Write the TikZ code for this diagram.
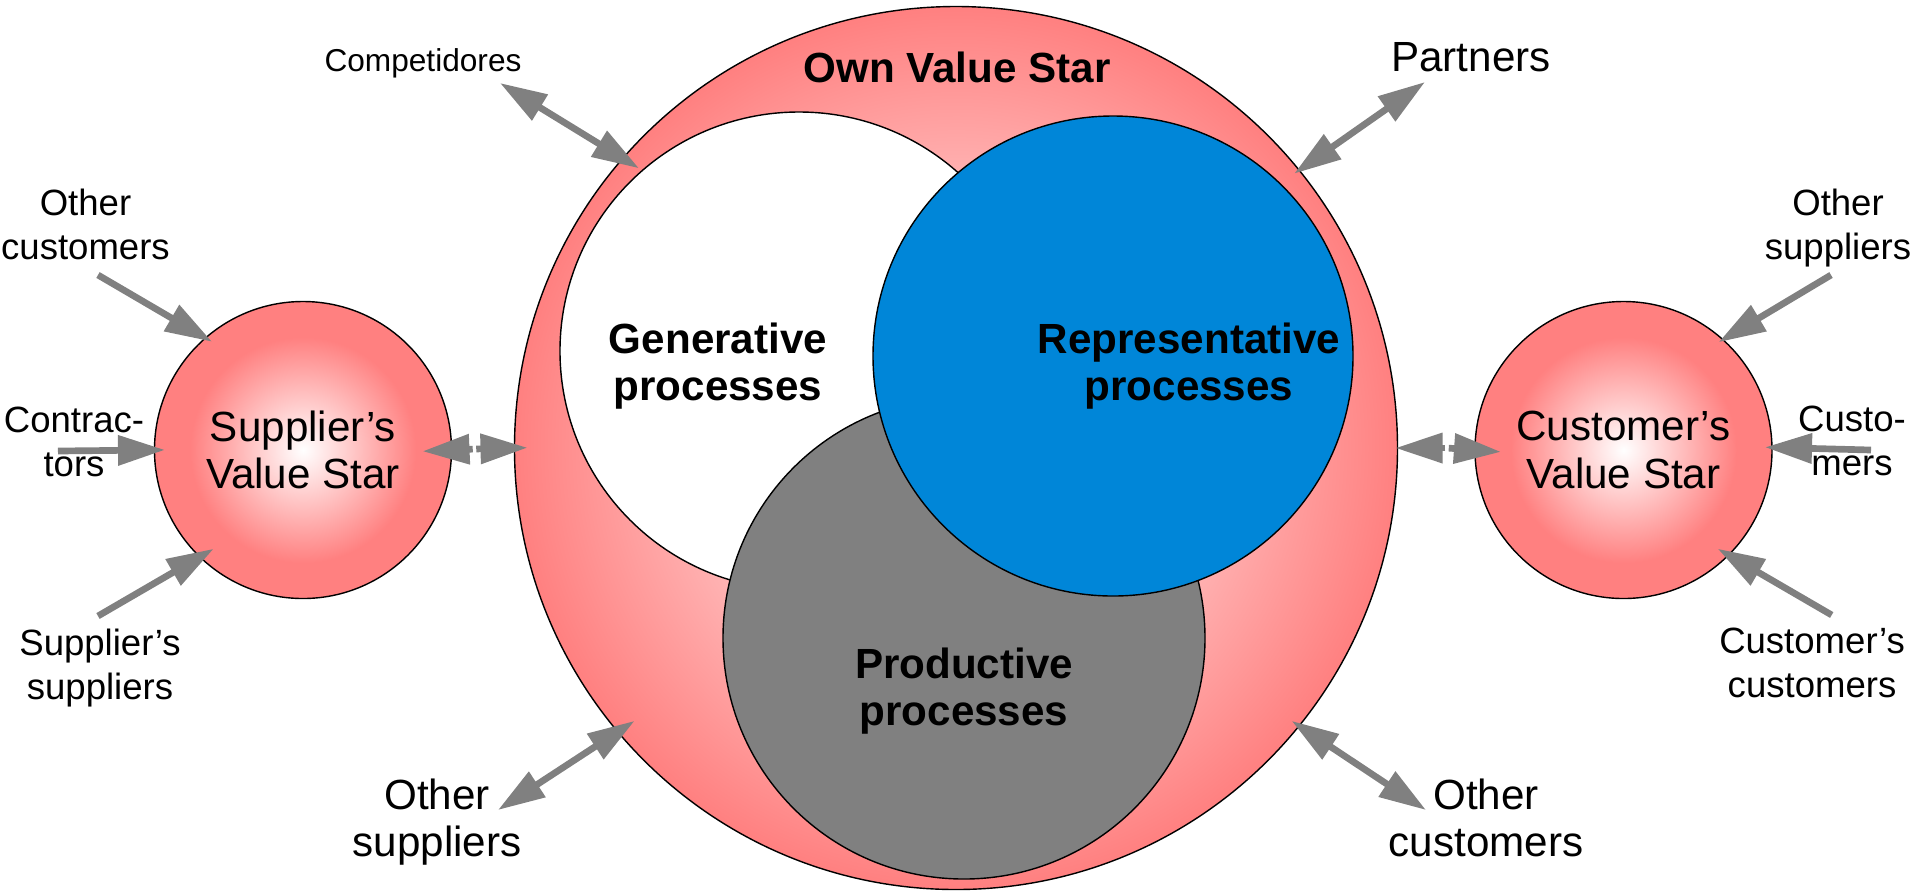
\documentclass[tikz,border=0pt]{standalone}
\usepackage{fontspec}
\setmainfont{Liberation Sans}
\usetikzlibrary{arrows.meta}
\definecolor{starpink}{RGB}{255,128,128}
\definecolor{procblue}{RGB}{0,134,216}
\definecolor{flowgray}{RGB}{128,128,128}
\pgfdeclareradialshading{starball}{\pgfpoint{0bp}{0bp}}{color(0bp)=(white); color(19bp)=(starpink); color(50bp)=(starpink)}
\tikzset{star/.style={circle,draw,outer sep=0pt,inner sep=0pt},
txt/.style={font=\fontsize{12}{13.4}\selectfont,align=center,inner sep=0pt},
side/.style={txt,font=\fontsize{10.4}{12.6}\selectfont},
bold/.style={txt,font=\fontsize{12}{13.4}\selectfont\bfseries},
flow/.style={draw=flowgray,line width=1.9pt,-{Triangle[length=0.47cm,width=0.29cm]}},
both/.style={flow,{Triangle[length=0.47cm,width=0.29cm]}-{Triangle[length=0.47cm,width=0.29cm]}}}

\begin{document}
\begin{tikzpicture}
\useasboundingbox (-9.56,-4.43) rectangle (9.59,4.48);
\node (own) at (0,0) [star, minimum size=8.83cm, inner color=white, outer color=starpink] {};
\node (sup) at (-6.53,-0.02) [star, minimum size=2.97cm, shading=starball, txt] {Supplier’s\\Value Star};
\node (cus) at (6.675,-0.02) [star, minimum size=2.97cm, shading=starball, txt] {Customer’s\\Value Star};
\node (gen) at (-1.57,0.97) [star, minimum size=4.78cm, fill=white] {};
\node (prod) at (0.08,-1.90) [star, minimum size=4.82cm, fill=flowgray] {};
\node (rep) at (1.57,0.92) [star, minimum size=4.80cm, fill=procblue] {};
\node (ownL) at (0.01,3.81) [bold] {Own Value Star};
\node (genL) at (-2.38,0.82) [bold] {Generative\\processes};
\node (repL) at (2.33,0.82) [bold] {Representative\\processes};
\node (prodL) at (0.08,-2.43) [bold] {Productive\\processes};
\node (comp) at (-5.33,3.85) [txt, font=\fontsize{9}{10}\selectfont] {Competidores};
\node (part) at (5.15,3.91) [txt] {Partners};
\node (osb) at (-5.19,-3.74) [txt] {Other\\suppliers};
\node (ocb) at (5.30,-3.70) [txt] {Other\\customers};
\foreach \nm/\x/\y/\lbl in {ocl/-8.705/2.235/{Other\\customers}, con/-8.82/0.06/{Contrac-\\tors},
  ssp/-8.56/-2.20/{Supplier’s\\suppliers}, osr/8.82/2.20/{Other\\suppliers}, cst/8.96/0.07/{Custo-\\mers},
  cuc/8.56/-2.15/{Customer’s\\customers}} {
\node (\nm) at (\x,\y) [side] {\lbl};
}
% free ends of the arrows
\coordinate (oclT) at (-8.58,1.73);
\coordinate (conT) at (-8.98,-0.03);
\coordinate (sspT) at (-8.58,-1.68);
\coordinate (osrT) at (8.75,1.73);
\coordinate (cstT) at (9.15,-0.02);
\coordinate (cucT) at (8.757,-1.67);
\coordinate (compT) at (-4.56,3.65);
\coordinate (partT) at (4.69,3.66);
\coordinate (osbT) at (-4.58,-3.62);
\coordinate (ocbT) at (4.70,-3.62);
\coordinate (gapL) at (-4.815,-0.01);
\coordinate (gapR) at (4.91,0);
\foreach \src/\dst/\ins in {oclT/sup.131/0.075cm, conT/sup.180/0.105cm, sspT/sup.226/0.16cm,
  osrT/cus.48/0.05cm, cstT/cus.1/0.07cm, cucT/cus.-45/0.125cm} {
\draw[flow, shorten >=-\ins] (\src) -- (\dst);
}
\foreach \src/\dst/\ins in {compT/own.139/0.19cm, partT/own.39/0.06cm, osbT/own.220/0.20cm, ocbT/own.-39/0.09cm} {
\draw[both, shorten >=-\ins] (\src) -- (\dst);
}
\foreach \src/\dst/\ins in {gapL/sup.0/0.29cm, gapL/own.180/0.13cm, gapR/own.0/0.02cm, gapR/cus.180/0.26cm} {
\draw[flow, shorten <=0.5pt, shorten >=-\ins] (\src) -- (\dst);
}
\end{tikzpicture}
\end{document}
